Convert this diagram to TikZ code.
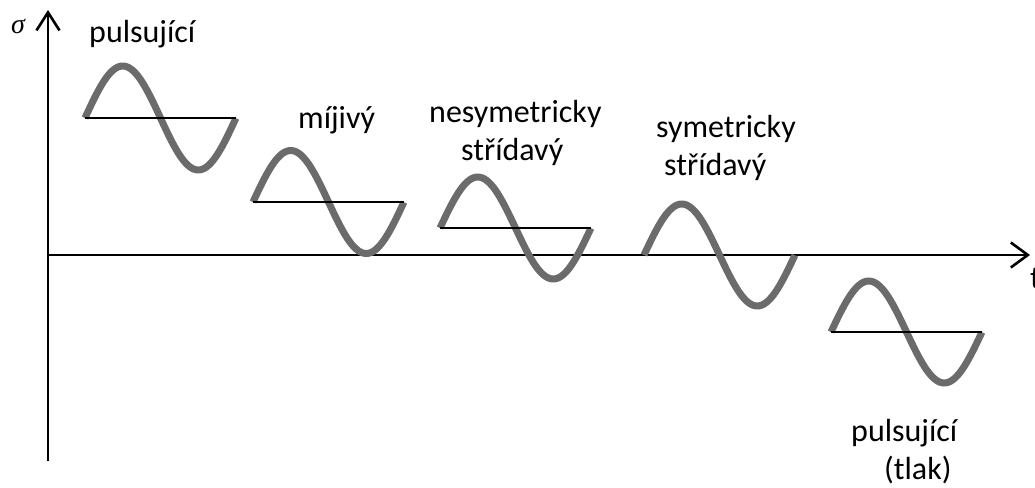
\documentclass[tikz,border=0pt]{standalone}
\usepackage{fontspec}
\setmainfont{Carlito}
\newfontfamily\sigfont{Liberation Serif}
\usetikzlibrary{arrows.meta}
\begin{document}
\begin{tikzpicture}[x=1pt,y=-1pt,
  axis/.style={line width=2.6pt,black},
  wave/.style={line width=7pt,color=black!58},
  base/.style={line width=2.2pt,black},
  lbl/.style={font=\fontsize{32}{38}\selectfont,inner sep=0pt,anchor=base west}]
\useasboundingbox (0,0) rectangle (1035,487);
% axes
\coordinate (O) at (48,255);
\coordinate (ybot) at (48,461);
\coordinate (ytop) at (48,10);
\coordinate (xend) at (1030,255);
\draw[axis,-{Straight Barb[length=18pt,width=23pt,line width=2.6pt]}] (ybot) -- (ytop);
\draw[axis,-{Straight Barb[length=17pt,width=25pt,line width=2.6pt]}] (O) -- (xend);
\node[inner sep=0pt,anchor=base west,font=\fontsize{28}{34}\sigfont\itshape] (sig) at (11,34) {σ};
\node[lbl] (t) at (1030,288) {t};
% waves
\foreach \px/\py/\pa in {85/118/52, 253/202/51.5, 440/228/51, 644/255/51, 831/332/51}{
  \draw[wave] plot[domain=0:1,samples=80,smooth,variable=\s] ({\px+151*\s}, {\py-\pa*sin(360*\s)});
}
\foreach \px/\py/\n in {85/118/b1, 253/202/b2, 440/228/b3, 831/332/b5}{
  \coordinate (\n s) at (\px,\py);
  \coordinate (\n e) at (\px+151,\py);
  \draw[base] (\n s) -- (\n e);
}
% labels
\node[lbl] (l1) at (89,42) {pulsující};
\node[lbl] (l2) at (298,128) {míjivý};
\node[lbl] (l3a) at (429,122) {nesymetricky};
\node[lbl] (l3b) at (461,160) {střídavý};
\node[lbl] (l4a) at (656,137) {symetricky};
\node[lbl] (l4b) at (664,175) {střídavý};
\node[lbl] (l5a) at (851,441) {pulsující};
\node[lbl] (l5b) at (884,479) {(tlak)};
\end{tikzpicture}
\end{document}
